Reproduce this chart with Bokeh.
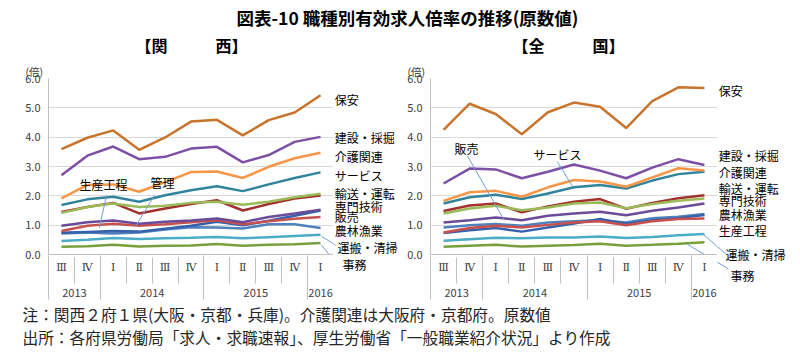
from bokeh.plotting import figure
from bokeh.models import Range1d, FixedTicker, LinearAxis, Label, Grid, NumeralTickFormatter, Title
from bokeh.layouts import column, row
from bokeh.embed import file_html
from bokeh.resources import INLINE

# ---------------- data ----------------
quarters = ["Ⅲ", "Ⅳ", "Ⅰ", "Ⅱ", "Ⅲ", "Ⅳ", "Ⅰ", "Ⅱ", "Ⅲ", "Ⅳ", "Ⅰ"]
years = ["2013", "2014", "2015", "2016"]
quarters_per_year = [2, 4, 4, 1]
y_ticks = [0, 1, 2, 3, 4, 5, 6]

occupations = ["事務", "運搬・清掃", "農林漁業", "管理", "生産工程", "販売",
               "輸送・運転", "専門技術", "サービス", "介護関連", "建設・採掘", "保安"]

kansai_jimu     = [0.26, 0.28, 0.33, 0.27, 0.30, 0.31, 0.36, 0.30, 0.33, 0.35, 0.39]
kansai_unpan    = [0.46, 0.50, 0.56, 0.53, 0.55, 0.57, 0.60, 0.55, 0.59, 0.63, 0.67]
kansai_noringyo = [0.72, 0.75, 0.72, 0.75, 0.85, 0.93, 0.92, 0.89, 1.03, 1.03, 0.90]
kansai_kanri    = [0.74, 0.77, 0.80, 0.78, 0.88, 0.98, 1.12, 1.00, 1.15, 1.32, 1.50]
kansai_seisan   = [0.80, 0.98, 1.05, 0.98, 1.03, 1.10, 1.17, 1.03, 1.13, 1.22, 1.28]
kansai_hanbai   = [0.98, 1.10, 1.16, 1.05, 1.12, 1.16, 1.23, 1.10, 1.28, 1.40, 1.53]
kansai_yuso     = [1.45, 1.62, 1.76, 1.40, 1.57, 1.72, 1.85, 1.50, 1.72, 1.91, 2.01]
kansai_senmon   = [1.42, 1.62, 1.74, 1.62, 1.66, 1.76, 1.80, 1.70, 1.80, 1.95, 2.07]
kansai_service  = [1.69, 1.88, 1.97, 1.80, 2.02, 2.19, 2.33, 2.16, 2.39, 2.61, 2.80]
kansai_kaigo    = [1.91, 2.37, 2.39, 2.14, 2.47, 2.81, 2.83, 2.61, 2.99, 3.28, 3.47]
kansai_kensetsu = [2.70, 3.37, 3.68, 3.25, 3.33, 3.61, 3.67, 3.14, 3.39, 3.84, 4.01]
kansai_hoan     = [3.59, 3.98, 4.23, 3.57, 3.99, 4.53, 4.59, 4.06, 4.58, 4.84, 5.43]

zenkoku_jimu     = [0.26, 0.30, 0.33, 0.27, 0.30, 0.32, 0.37, 0.30, 0.33, 0.37, 0.42]
zenkoku_unpan    = [0.47, 0.52, 0.57, 0.55, 0.58, 0.58, 0.61, 0.56, 0.60, 0.66, 0.70]
zenkoku_noringyo = [0.92, 1.00, 1.04, 0.98, 1.09, 1.13, 1.17, 1.09, 1.24, 1.29, 1.38]
zenkoku_kanri    = [0.73, 0.83, 0.90, 0.78, 0.92, 1.06, 1.21, 1.04, 1.17, 1.24, 1.35]
zenkoku_seisan   = [0.75, 0.90, 0.98, 0.92, 1.01, 1.09, 1.13, 1.00, 1.13, 1.21, 1.23]
zenkoku_hanbai   = [1.09, 1.17, 1.26, 1.17, 1.32, 1.40, 1.46, 1.34, 1.49, 1.60, 1.74]
zenkoku_yuso     = [1.48, 1.67, 1.74, 1.44, 1.64, 1.80, 1.89, 1.56, 1.76, 1.92, 2.02]
zenkoku_senmon   = [1.40, 1.57, 1.66, 1.51, 1.60, 1.74, 1.77, 1.58, 1.72, 1.83, 1.91]
zenkoku_service  = [1.74, 1.95, 2.04, 1.89, 2.08, 2.29, 2.37, 2.25, 2.52, 2.74, 2.82]
zenkoku_kaigo    = [1.83, 2.12, 2.17, 1.97, 2.29, 2.54, 2.49, 2.31, 2.63, 2.94, 2.86]
zenkoku_kensetsu = [2.42, 2.93, 2.90, 2.60, 2.82, 3.07, 2.86, 2.60, 2.96, 3.25, 3.05]
zenkoku_hoan     = [4.25, 5.14, 4.79, 4.10, 4.85, 5.18, 5.04, 4.31, 5.23, 5.70, 5.68]

kansai = [kansai_jimu, kansai_unpan, kansai_noringyo, kansai_kanri, kansai_seisan, kansai_hanbai,
          kansai_yuso, kansai_senmon, kansai_service, kansai_kaigo, kansai_kensetsu, kansai_hoan]
zenkoku = [zenkoku_jimu, zenkoku_unpan, zenkoku_noringyo, zenkoku_kanri, zenkoku_seisan, zenkoku_hanbai,
           zenkoku_yuso, zenkoku_senmon, zenkoku_service, zenkoku_kaigo, zenkoku_kensetsu, zenkoku_hoan]

# ---------------- style ----------------
colors = ["#77A03C", "#4BACC6", "#4F81BD", "#3562AB", "#C8504D", "#6B4A98",
          "#A3312E", "#9BBB59", "#31849B", "#F79646", "#7D4FA5", "#C8742D"]
FONT = "Noto Sans CJK JP"
GRID = "#D9D9D9"
AXIS = "#BFBFBF"
LEADER = "#6F9FD8"

TOP_H = 56
NOTES_H = 61
PANEL_H = 363 - TOP_H - NOTES_H
BORDER_TOP = 22
BORDER_BOTTOM = 48
STRIP_BOTTOM = 12

# label layout (data units of each panel)
kansai_labels = [("保安", 10.55, 5.29), ("建設・採掘", 10.55, 3.98), ("介護関連", 10.55, 3.35),
                 ("サービス", 10.55, 2.70), ("輸送・運転", 10.55, 2.09), ("専門技術", 10.55, 1.63),
                 ("販売", 10.55, 1.31), ("農林漁業", 10.55, 0.83), ("運搬・清掃", 10.65, 0.25),
                 ("事務", 10.85, -0.33)]
kansai_callouts = [("生産工程", 1.62, 2.40), ("管理", 3.90, 2.47)]
kansai_leaders = [(1.74, 2.02, 1.46, 0.90), (3.59, 2.02, 2.85, 0.94),
                  (10.04, 0.62, 10.58, 0.32), (10.04, 0.32, 10.5, -0.19)]

zenkoku_labels = [("保安", 10.55, 5.58), ("建設・採掘", 10.55, 3.38), ("介護関連", 10.55, 2.79),
                  ("輸送・運転", 10.55, 2.26), ("専門技術", 10.55, 1.83), ("農林漁業", 10.55, 1.35),
                  ("生産工程", 10.55, 0.81), ("運搬・清掃", 10.81, -0.01), ("事務", 11.0, -0.73)]
zenkoku_callouts = [("販売", 0.88, 3.60), ("サービス", 4.37, 3.40)]
zenkoku_leaders = [(0.91, 3.37, 2.30, 1.21), (4.36, 3.17, 4.93, 2.34),
                   (9.91, 0.72, 10.81, 0.03), (9.34, 0.35, 10.92, -0.49)]


def no_align(f):
    try:
        f.frame_align = False
    except Exception:
        pass
    return f


def add_text(p, x, y, t, size="12px", align="left", bold=False, color="#000000", font=FONT):
    p.add_layout(Label(x=x, y=y, text=t, text_font=font, text_font_size=size,
                       text_align=align, text_baseline="middle", text_color=color,
                       text_font_style="bold" if bold else "normal"))


def make_panel(series, plot_w, border_left, strip_w, labels, callouts, leaders):
    n = len(quarters)
    xs = list(range(n))
    frame_w = plot_w - border_left
    frame_h = PANEL_H - BORDER_TOP - BORDER_BOTTOM
    p = figure(width=plot_w, height=PANEL_H, x_range=Range1d(-0.5, n - 0.5), y_range=Range1d(0, 6),
               x_axis_type=None, y_axis_type=None, output_backend="svg", toolbar_location=None,
               min_border_left=border_left, min_border_right=0,
               min_border_top=BORDER_TOP, min_border_bottom=BORDER_BOTTOM, outline_line_color=None)
    # strip to the right of the plot area, on the same scales, for the end labels
    strip_h = PANEL_H - BORDER_TOP - STRIP_BOTTOM
    s = figure(width=strip_w, height=PANEL_H,
               x_range=Range1d(n - 0.5, n - 0.5 + strip_w * n / frame_w),
               y_range=Range1d(6 - strip_h * 6 / frame_h, 6),
               x_axis_type=None, y_axis_type=None, output_backend="svg", toolbar_location=None,
               min_border_left=0, min_border_right=0,
               min_border_top=BORDER_TOP, min_border_bottom=STRIP_BOTTOM, outline_line_color=None)
    no_align(p)
    no_align(s)

    p.title = Title(text="(倍)", align="left", offset=-23, text_font_size="10.5px",
                    text_font=FONT, text_font_style="normal", text_color="#404040", standoff=0)

    yticker = FixedTicker(ticks=y_ticks)
    yax = LinearAxis(ticker=yticker, formatter=NumeralTickFormatter(format="0.0"),
                     major_tick_out=0, major_tick_in=0, minor_tick_line_color=None,
                     axis_line_color=AXIS, major_label_text_font_size="11px",
                     major_label_text_color="#404040", major_label_text_font=FONT,
                     major_label_standoff=8)
    p.add_layout(yax, "left")
    p.add_layout(Grid(dimension=1, ticker=yticker, grid_line_color=GRID))

    # quarter row
    bounds = [i - 0.5 for i in range(n + 1)]
    xax1 = LinearAxis(ticker=FixedTicker(ticks=xs),
                      major_label_overrides={i: quarters[i] for i in xs},
                      major_tick_out=0, major_tick_in=0, minor_tick_line_color=None,
                      axis_line_color=AXIS, major_label_standoff=6,
                      major_label_text_font="DejaVu Serif", major_label_text_font_size="11px",
                      major_label_text_color="#404040")
    p.add_layout(xax1, "below")

    # year row + short separators between quarters
    centers, ybounds, start = [], [-0.5], 0
    for c in quarters_per_year:
        centers.append(start + (c - 1) / 2)
        start += c
        ybounds.append(start - 0.5)
    xax2 = LinearAxis(ticker=FixedTicker(ticks=centers, minor_ticks=bounds),
                      major_label_overrides={c: y for c, y in zip(centers, years)},
                      major_tick_out=0, major_tick_in=0,
                      minor_tick_out=7, minor_tick_in=19, minor_tick_line_color=AXIS,
                      axis_line_color=None, major_label_standoff=5,
                      major_label_text_font=FONT, major_label_text_font_size="11px",
                      major_label_text_color="#404040")
    p.add_layout(xax2, "below")
    # long separators between years
    xax3 = LinearAxis(ticker=FixedTicker(ticks=[], minor_ticks=ybounds),
                      major_tick_out=0, major_tick_in=0, major_label_standoff=0,
                      minor_tick_out=0, minor_tick_in=44, minor_tick_line_color=AXIS,
                      axis_line_color=None)
    p.add_layout(xax3, "below")

    for ys, col in zip(series, colors):
        p.line(xs, ys, line_color=col, line_width=2.5)

    for f in (p, s):
        for (x0, y0, x1, y1) in leaders:
            f.segment(x0=[x0], y0=[y0], x1=[x1], y1=[y1], line_color=LEADER, line_width=1)
    for t, x, y in labels:
        add_text(s, x, y, t)
    for t, x, y in callouts:
        add_text(p, x, y, t, align="center")
    return p, s


left, left_strip = make_panel(kansai, 333, 48, 67, kansai_labels, kansai_callouts, kansai_leaders)
right, right_strip = make_panel(zenkoku, 317, 30, 83, zenkoku_labels, zenkoku_callouts, zenkoku_leaders)


def text_fig(height, y0, y1):
    f = figure(width=800, height=height, x_range=Range1d(0, 800), y_range=Range1d(y1, y0),
               x_axis_type=None, y_axis_type=None, output_backend="svg", toolbar_location=None,
               min_border=0, outline_line_color=None)
    return no_align(f)


top = text_fig(TOP_H, 0, TOP_H)
add_text(top, 407, 17, "図表-10 職種別有効求人倍率の推移(原数値)", size="17.5px", align="center", bold=True)
add_text(top, 191, 44, "【関　　　西】", size="16px", align="center", bold=True)
add_text(top, 568, 44, "【全　　　国】", size="16px", align="center", bold=True)

notes = text_fig(NOTES_H, 363 - NOTES_H, 363)
add_text(notes, 22, 314, "注：関西２府１県(大阪・京都・兵庫)。介護関連は大阪府・京都府。原数値",
         size="15.7px", color="#262626")
add_text(notes, 22, 337, "出所：各府県労働局「求人・求職速報」、厚生労働省「一般職業紹介状況」より作成",
         size="15.7px", color="#262626")

layout = column(top, row(left, left_strip, right, right_strip), notes)
open("out.html", "w").write(file_html(layout, INLINE))
